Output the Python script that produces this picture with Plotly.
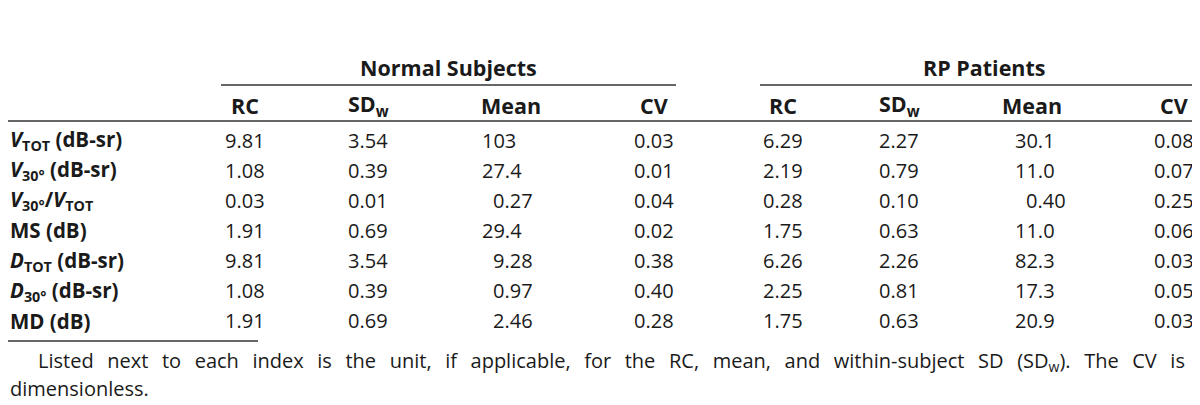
import plotly.graph_objects as go

# ---------------- data ----------------
groups = ["Normal Subjects", "RP Patients"]
columns = ["RC", "SD<sub>w</sub>", "Mean", "CV"]
row_labels = [
    "<b><i>V</i><sub>TOT</sub> (dB-sr)</b>",
    "<b><i>V</i><sub>30°</sub> (dB-sr)</b>",
    "<b><i>V</i><sub>30°</sub>/<i>V</i><sub>TOT</sub></b>",
    "<b>MS (dB)</b>",
    "<b><i>D</i><sub>TOT</sub> (dB-sr)</b>",
    "<b><i>D</i><sub>30°</sub> (dB-sr)</b>",
    "<b>MD (dB)</b>",
]
normal_rc = ["9.81", "1.08", "0.03", "1.91", "9.81", "1.08", "1.91"]
normal_sdw = ["3.54", "0.39", "0.01", "0.69", "3.54", "0.39", "0.69"]
normal_mean = ["103", "27.4", "0.27", "29.4", "9.28", "0.97", "2.46"]
normal_cv = ["0.03", "0.01", "0.04", "0.02", "0.38", "0.40", "0.28"]
rp_rc = ["6.29", "2.19", "0.28", "1.75", "6.26", "2.25", "1.75"]
rp_sdw = ["2.27", "0.79", "0.10", "0.63", "2.26", "0.81", "0.63"]
rp_mean = ["30.1", "11.0", "0.40", "11.0", "82.3", "17.3", "20.9"]
rp_cv = ["0.08", "0.07", "0.25", "0.06", "0.03", "0.05", "0.03"]
footnote_1 = ("Listed next to each index is the unit, if applicable, for the RC, mean, "
              "and within-subject SD (SD<sub>w</sub>). The CV is")
footnote_2 = "dimensionless."

# ---------------- layout ----------------
W, H = 1200, 405
FONT = "Open Sans"
FS = 20          # body numbers and footnote
FS_HEAD = 21.5   # group and column headers
FS_LABEL = 20.5  # row labels
COLOR = "#1a1a1a"
LINE = "#333333"

row_y0, row_dy = 132, 30.15
group_y, group_line_y = 59, 77
head_y, head_line_y = 97, 113
bottom_line_y = 333
foot_y1, foot_y2 = 353, 380

group_specs = [
    dict(name=groups[0], line=(213, 668),
         cols=[(237, normal_rc), (360, normal_sdw), (646, normal_cv)],
         mean_head=503, mean_left=472, mean=normal_mean),
    dict(name=groups[1], line=(752, 1200),
         cols=[(775, rp_rc), (891, rp_sdw), (1166, rp_cv)],
         mean_head=1024, mean_left=1005, mean=rp_mean),
]

fig = go.Figure()
ann = []
shapes = []

def text(x, y, s, anchor="center", bold=False, size=FS):
    ann.append(dict(x=x, y=y, xref="x", yref="y", text=("<b>%s</b>" % s) if bold else s,
                    showarrow=False, xanchor=anchor, yanchor="middle",
                    font=dict(family=FONT, size=size, color=COLOR)))

def hline(x0, x1, y, w=1.4):
    shapes.append(dict(type="line", xref="x", yref="y", x0=x0, x1=x1, y0=y, y1=y,
                       line=dict(color=LINE, width=w)))

digit_w = 0.572 * FS

for g in group_specs:
    l0, l1 = g["line"]
    text((l0 + l1) / 2, group_y, g["name"], bold=True, size=FS_HEAD)
    hline(l0, l1, group_line_y)
    heads = [g["cols"][0][0], g["cols"][1][0], g["mean_head"], g["cols"][2][0]]
    for hx, hname in zip(heads, columns):
        text(hx, head_y, hname, bold=True, size=FS_HEAD)
    for cx, vals in g["cols"]:
        for i, v in enumerate(vals):
            text(cx, row_y0 + i * row_dy, v)
    for i, v in enumerate(g["mean"]):
        shift = digit_w if float(v) < 10 else 0
        text(g["mean_left"] + shift, row_y0 + i * row_dy, v, anchor="left")

for i, lab in enumerate(row_labels):
    text(0, row_y0 + i * row_dy, lab, anchor="left", size=FS_LABEL)

hline(0, W, head_line_y)
hline(0, 250, bottom_line_y)

ann.append(dict(x=28, y=foot_y1, xref="x", yref="y",
                text='<span style="word-spacing:8.4px">%s</span>' % footnote_1,
                showarrow=False, xanchor="left", yanchor="middle",
                font=dict(family=FONT, size=FS, color=COLOR)))
text(0, foot_y2, footnote_2, anchor="left")

fig.update_layout(
    width=W, height=H,
    margin=dict(l=0, r=0, t=0, b=0),
    paper_bgcolor="white", plot_bgcolor="white",
    xaxis=dict(range=[0, W], visible=False, fixedrange=True),
    yaxis=dict(range=[H, 0], visible=False, fixedrange=True),
    annotations=ann, shapes=shapes, showlegend=False,
)
fig.write_html("out.html")
